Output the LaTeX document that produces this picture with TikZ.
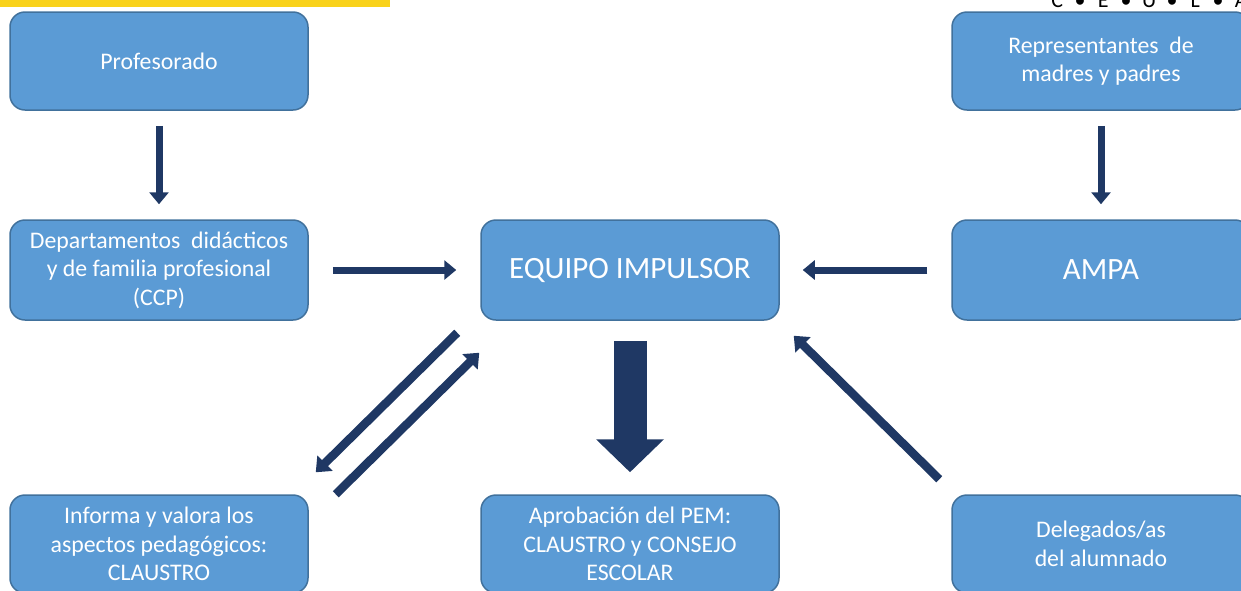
\documentclass[tikz,border=0pt]{standalone}
\usepackage{fontspec}
\setmainfont{Carlito}
\usetikzlibrary{arrows.meta,calc}
\definecolor{boxfill}{HTML}{5B9BD5}
\definecolor{boxline}{HTML}{41719C}
\definecolor{navy}{HTML}{1F3864}
\definecolor{yell}{HTML}{F9D21B}
\begin{document}
\begin{tikzpicture}[x=1pt,y=-1pt,
  box/.style={draw=boxline,line width=1.5pt,fill=boxfill,rounded corners=15pt,
    minimum width=298pt,minimum height=98pt,inner sep=0pt,align=center,text=white,
    font=\fontsize{23.8}{28.5}\selectfont},
  bigbox/.style={box,font=\fontsize{31}{36}\selectfont},
  arr/.style={navy,line width=7pt,-{Triangle[width=19pt,length=12pt]}},
  darr/.style={navy,line width=8.5pt,-{Triangle[width=21pt,length=13pt]}},
  fatarr/.style={navy,line width=33pt,-{Triangle[width=66pt,length=33pt]}}]
\useasboundingbox (0,0) rectangle (1241,590);
\clip (0,0) rectangle (1241,590);
\fill[yell] (0,-2) rectangle (390,7);
\node[anchor=base west,inner sep=0pt,text=black,font=\fontsize{22}{26}\selectfont] (deco) at (1045.5,7)
  {\makebox[23pt]{C}\makebox[23pt]{•}\makebox[23pt]{E}\makebox[23pt]{•}\makebox[23pt]{U}\makebox[23pt]{•}\makebox[23pt]{L}\makebox[23pt]{•}\makebox[23pt]{A}};
\node[box] (prof) at (159,61) {Profesorado};
\node[box] (rep) at (1101,61) {Representantes\ \ de\\madres y padres};
\node[box,minimum height=100pt] (dep) at (159,270) {Departamentos\ \ didácticos\\y de familia profesional\\(CCP)};
\node[bigbox,minimum height=100pt] (eq) at (630,270) {EQUIPO IMPULSOR};
\node[bigbox,minimum height=100pt] (ampa) at (1101,270) {AMPA};
\node[box] (info) at (159,544) {Informa y valora los\\aspectos pedagógicos:\\CLAUSTRO};
\node[box] (apro) at (630,544) {Aprobación del PEM:\\CLAUSTRO y CONSEJO\\ESCOLAR};
\node[box] (del) at (1101,544) {Delegados/as\\del alumnado};
\draw[arr,shorten <=15pt,shorten >=15pt] (prof.south) -- (dep.north);
\draw[arr,shorten <=15pt,shorten >=15pt] (rep.south) -- (ampa.north);
\draw[arr,shorten <=24pt,shorten >=24pt] (dep.east) -- (eq.west);
\draw[arr,shorten <=24pt,shorten >=23pt] (ampa.west) -- (eq.east);
\draw[fatarr,shorten <=20pt,shorten >=22pt] (eq.south) -- (apro.north);
\draw[darr] ([shift={(-23,12)}]eq.south west) -- ([shift={(7,-22)}]info.north east);
\draw[darr] ([shift={(27,0)}]info.north east) -- ([shift={(-1,32)}]eq.south west);
\draw[darr] ([shift={(-12,-15)}]del.north west) -- ([shift={(14,15)}]eq.south east);
\end{tikzpicture}
\end{document}
